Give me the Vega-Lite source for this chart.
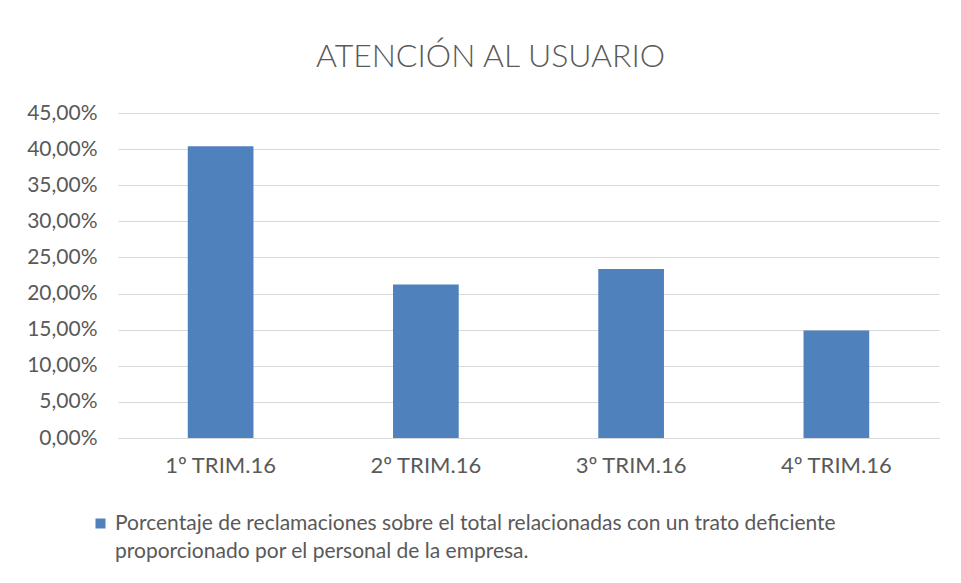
{
  "$schema": "https://vega.github.io/schema/vega-lite/v6.json",
  "width": 821,
  "height": 325,
  "autosize": {"type": "pad"},
  "padding": {"left": 26, "top": 41, "right": 21, "bottom": 10},
  "background": "white",
  "title": {
    "text": "ATENCIÓN AL USUARIO",
    "font": "Lato",
    "fontSize": 32,
    "fontWeight": 300,
    "color": "#595959",
    "anchor": "middle",
    "frame": "group",
    "dx": -38,
    "offset": 28
  },
  "data": {
    "values": [
      {"trimestre": "1º TRIM.16", "valor": 0.404, "serie": "Porcentaje de reclamaciones sobre el total relacionadas con un trato deficiente proporcionado por el personal de la empresa."},
      {"trimestre": "2º TRIM.16", "valor": 0.2125, "serie": "Porcentaje de reclamaciones sobre el total relacionadas con un trato deficiente proporcionado por el personal de la empresa."},
      {"trimestre": "3º TRIM.16", "valor": 0.234, "serie": "Porcentaje de reclamaciones sobre el total relacionadas con un trato deficiente proporcionado por el personal de la empresa."},
      {"trimestre": "4º TRIM.16", "valor": 0.149, "serie": "Porcentaje de reclamaciones sobre el total relacionadas con un trato deficiente proporcionado por el personal de la empresa."}
    ]
  },
  "mark": {"type": "bar"},
  "encoding": {
    "x": {
      "field": "trimestre",
      "type": "nominal",
      "sort": null,
      "scale": {"paddingInner": 0.68, "paddingOuter": 0.34},
      "axis": {
        "title": null,
        "labelAngle": 0,
        "ticks": false,
        "domainColor": "#d9d9d9",
        "labelFont": "Lato",
        "labelFontSize": 22,
        "labelColor": "#595959",
        "labelPadding": 17
      }
    },
    "y": {
      "field": "valor",
      "type": "quantitative",
      "scale": {"domain": [0, 0.45]},
      "axis": {
        "title": null,
        "values": [0, 0.05, 0.1, 0.15, 0.2, 0.25, 0.3, 0.35, 0.4, 0.45],
        "labelExpr": "replace(format(datum.value, '.2%'), '.', ',')",
        "domain": false,
        "ticks": false,
        "gridColor": "#d9d9d9",
        "labelFont": "Lato",
        "labelFontSize": 21,
        "labelColor": "#595959",
        "labelPadding": 21
      }
    },
    "color": {
      "field": "serie",
      "type": "nominal",
      "scale": {"range": ["#4F81BD"]},
      "legend": {
        "title": null,
        "orient": "none",
        "legendX": -28,
        "legendY": 400,
        "symbolType": "square",
        "symbolSize": 100,
        "symbolStrokeWidth": 0,
        "labelFont": "Lato",
        "labelFontSize": 21,
        "labelColor": "#595959",
        "labelLimit": 900,
        "labelOffset": 4,
        "labelExpr": "['Porcentaje de reclamaciones sobre el total relacionadas con un trato deficiente', 'proporcionado por el personal de la empresa.']",
        "encode": {"labels": {"update": {"lineHeight": {"value": 28}}}}
      }
    }
  },
  "config": {"view": {"stroke": null}}
}
